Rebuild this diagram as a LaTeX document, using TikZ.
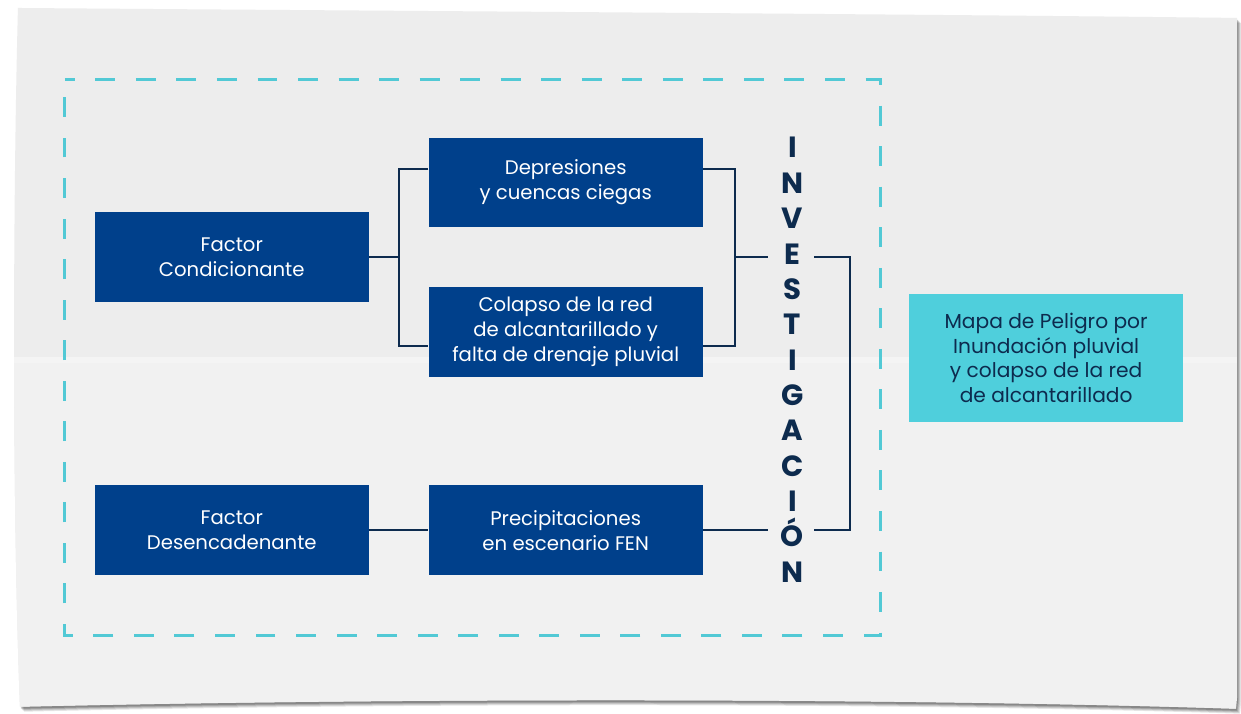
\documentclass[tikz,border=0pt]{standalone}
\usepackage{fontspec}
\usetikzlibrary{calc}
\setmainfont{Poppins}
\definecolor{navy}{HTML}{0D2B4E}
\definecolor{boxblue}{HTML}{00408B}
\definecolor{cyanbox}{HTML}{4FCFDC}
\definecolor{dashcol}{HTML}{52C9D5}
\definecolor{paperA}{HTML}{EDEDED}
\definecolor{paperB}{HTML}{F1F1F1}
\newcommand\paperpath{(18,8) .. controls (13,200) and (12,500) .. (20,709) .. controls (400,700) and (900,700) .. (1240,711) -- (1241,700) -- (1241,18) .. controls (900,14) and (400,11) .. (18,8) -- cycle}
\begin{document}
\begin{tikzpicture}[x=0.75pt,y=-0.75pt,
  bluebox/.style={fill=boxblue, text=white, minimum width=206.25pt, minimum height=67.5pt, inner sep=0pt, align=center, font=\fontsize{14.8}{18.75}\selectfont},
  mapbox/.style={fill=cyanbox, text=navy, minimum width=206.25pt, minimum height=96pt, inner sep=0pt, align=center, font=\fontsize{15.2}{18.4}\selectfont},
  conn/.style={draw=navy, line width=1.5pt},
  invtext/.style={text=navy, minimum width=35.25pt, inner sep=0pt, align=center, font=\bfseries\fontsize{22}{26.6}\selectfont},
  frame/.style={draw=dashcol, line width=2.25pt, dash pattern=on 15pt off 15.5pt, dash phase=7.5pt}]
% canvas and paper
\fill[white] (0,0) rectangle (1241,713);
\foreach \s/\o in {5/0.10,4/0.12,3/0.15,2/0.2}{
  \begin{scope}[shift={(\s-1,\s)}]
    \fill[black,opacity=\o] \paperpath;
  \end{scope}
}
\fill[paperA] \paperpath;
\begin{scope}
  \clip \paperpath;
  \fill[paperB] (0,358) rectangle (1241,713);
  \fill[white,opacity=0.25] (0,358) rectangle (1241,364);
\end{scope}
\useasboundingbox (0,0) rectangle (1241,713);
% dashed frame
\draw[frame] (65,80) -- (883,80) -- (883,638) -- (65,638) -- cycle;
% boxes
\node[bluebox] (fc) at (232.5,258) {Factor\\Condicionante};
\node[bluebox] (dep) at (567.5,183) {Depresiones\\y cuencas ciegas};
\node[bluebox] (col) at (567.5,333) {Colapso de la red\\de alcantarillado y\\falta de drenaje pluvial};
\node[bluebox] (fd) at (232.5,532) {Factor\\Desencadenante};
\node[bluebox] (pre) at (567.5,532) {Precipitaciones\\en escenario FEN};
\node[mapbox] (map) at (1049.5,359) {Mapa de Peligro por\\Inundación pluvial\\y colapso de la red\\de alcantarillado};
\node[invtext] (inv) at (795,361) {I\\N\\V\\E\\S\\T\\I\\G\\A\\C\\I\\Ó\\N};
% connectors
\draw[conn] (fc.east) -- ++(30,0) coordinate (jl);
\draw[conn] ($(dep.west)+(0,-13)$) -| (jl) |- ($(col.west)+(0,14)$);
\draw[conn] ($(dep.east)+(0,-13)$) -| ($(col.east)+(32,14)$) coordinate (jr) -- ($(col.east)+(0,14)$);
\draw[conn] (jr |- fc.east) -- ($(inv.center |- fc.east)+(-25,0)$) coordinate (il);
\draw[conn] ($(inv.center |- fc.east)+(22,0)$) -- ++(36,0) coordinate (ir) |- ($(inv.center |- pre.east)+(22,0)$);
\draw[conn] (pre.east) -- ($(inv.center |- pre.east)+(-25,0)$);
\draw[conn] (fd.east) -- (pre.west);
\end{tikzpicture}
\end{document}
